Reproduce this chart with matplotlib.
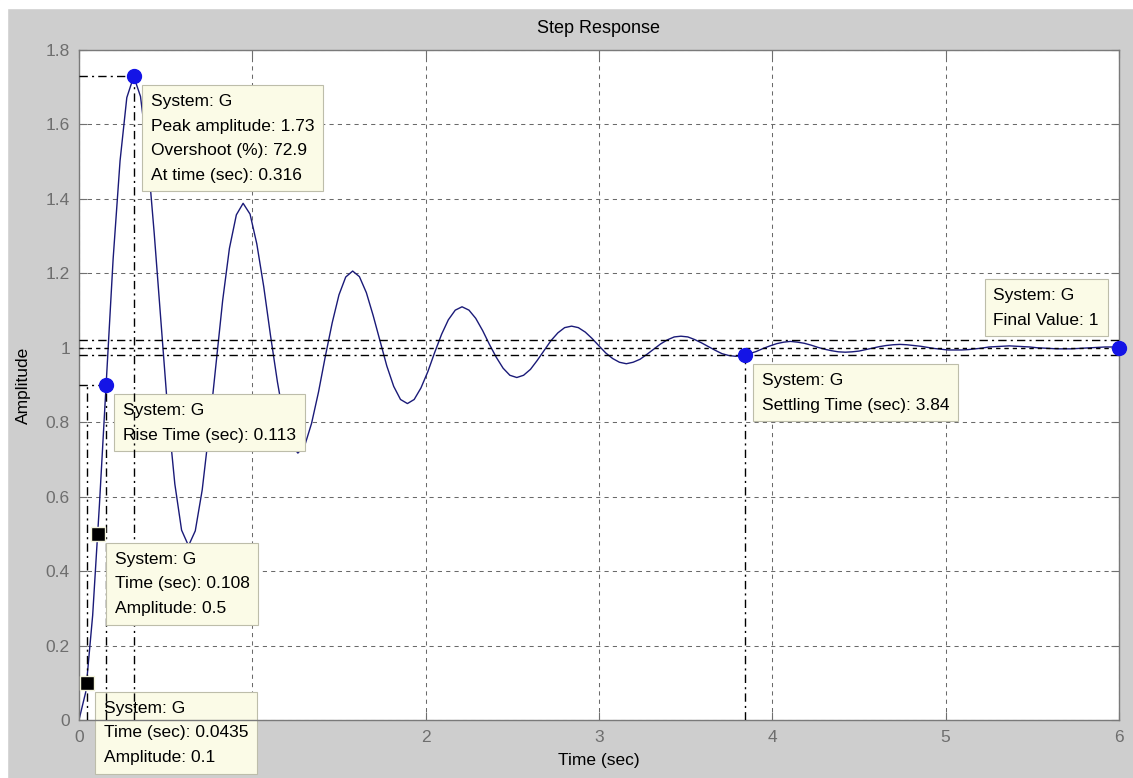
import matplotlib
matplotlib.use("Agg")
import matplotlib.pyplot as plt
from matplotlib.patches import Rectangle

# step response of G, sampled along the curve
time_s = [0.000, 0.039, 0.079, 0.118, 0.158, 0.197, 0.237, 0.276,
          0.316, 0.355, 0.395, 0.434, 0.474, 0.513, 0.553, 0.592,
          0.632, 0.671, 0.711, 0.750, 0.790, 0.829, 0.868, 0.908,
          0.947, 0.987, 1.026, 1.066, 1.105, 1.145, 1.184, 1.224,
          1.263, 1.303, 1.342, 1.382, 1.421, 1.461, 1.500, 1.539,
          1.579, 1.618, 1.658, 1.697, 1.737, 1.776, 1.816, 1.855,
          1.895, 1.934, 1.973, 2.013, 2.052, 2.092, 2.131, 2.171,
          2.210, 2.250, 2.289, 2.329, 2.368, 2.408, 2.447, 2.486,
          2.526, 2.565, 2.605, 2.644, 2.684, 2.723, 2.763, 2.802,
          2.842, 2.881, 2.921, 2.960, 3.000, 3.039, 3.079, 3.118,
          3.158, 3.197, 3.237, 3.276, 3.316, 3.355, 3.394, 3.434,
          3.473, 3.513, 3.552, 3.592, 3.631, 3.671, 3.710, 3.750,
          3.789, 3.829, 3.868, 3.908, 3.947, 3.987, 4.026, 4.066,
          4.105, 4.145, 4.184, 4.224, 4.263, 4.302, 4.342, 4.381,
          4.421, 4.460, 4.500, 4.539, 4.579, 4.618, 4.658, 4.697,
          4.737, 4.776, 4.816, 4.855, 4.894, 4.934, 4.973, 5.013,
          5.052, 5.092, 5.131, 5.171, 5.210, 5.250, 5.289, 5.329,
          5.368, 5.408, 5.447, 5.486, 5.526, 5.565, 5.605, 5.644,
          5.684, 5.723, 5.763, 5.802, 5.842, 5.881, 5.921, 5.960,
          6.000]
amplitude = [0.000, 0.075, 0.281, 0.578, 0.914, 1.238, 1.502, 1.672,
             1.729, 1.675, 1.524, 1.308, 1.063, 0.826, 0.634, 0.510,
             0.468, 0.508, 0.618, 0.775, 0.954, 1.127, 1.267, 1.357,
             1.388, 1.359, 1.279, 1.164, 1.033, 0.908, 0.805, 0.740,
             0.717, 0.738, 0.797, 0.881, 0.976, 1.067, 1.142, 1.190,
             1.206, 1.191, 1.148, 1.087, 1.018, 0.951, 0.896, 0.861,
             0.850, 0.861, 0.892, 0.936, 0.987, 1.036, 1.075, 1.101,
             1.110, 1.101, 1.079, 1.046, 1.009, 0.974, 0.945, 0.926,
             0.920, 0.926, 0.942, 0.966, 0.993, 1.019, 1.040, 1.054,
             1.058, 1.054, 1.042, 1.025, 1.005, 0.986, 0.971, 0.961,
             0.957, 0.961, 0.969, 0.982, 0.996, 1.010, 1.021, 1.029,
             1.031, 1.029, 1.022, 1.013, 1.003, 0.993, 0.984, 0.979,
             0.977, 0.979, 0.984, 0.990, 0.998, 1.005, 1.011, 1.015,
             1.017, 1.015, 1.012, 1.007, 1.001, 0.996, 0.992, 0.989,
             0.988, 0.989, 0.991, 0.995, 0.999, 1.003, 1.006, 1.008,
             1.009, 1.008, 1.006, 1.004, 1.001, 0.998, 0.996, 0.994,
             0.994, 0.994, 0.995, 0.997, 0.999, 1.002, 1.003, 1.004,
             1.005, 1.004, 1.003, 1.002, 1.000, 0.999, 0.998, 0.997,
             0.997, 0.997, 0.998, 0.999, 1.000, 1.001, 1.002, 1.002,
             1.002]

# characteristics reported by the data tips
peak_time = 0.316
peak_amp = 1.73
overshoot = 72.9
rise_start = 0.0435
rise_time = 0.113
rise_level = 0.9
settle_time = 3.84
settle_amp = 0.98
settle_band = [0.98, 1.02]
final_time = 6
final_value = 1
tip_times = [0.0435, 0.108]
tip_amps = [0.1, 0.5]

x_ticks = [0, 1, 2, 3, 4, 5, 6]
y_ticks = [0, 0.2, 0.4, 0.6, 0.8, 1, 1.2, 1.4, 1.6, 1.8]
y_labels = ['0', '0.2', '0.4', '0.6', '0.8', '1', '1.2', '1.4', '1.6', '1.8']

plt.rcParams['font.family'] = ['Liberation Sans', 'DejaVu Sans']

fig = plt.figure(figsize=(11.33, 7.78), dpi=100, facecolor='#cecece')
# thin white border along top and left of the window capture
fig.patches.append(Rectangle((0, 1 - 8 / 778), 1, 8 / 778, transform=fig.transFigure,
                             color='white', zorder=0))
fig.patches.append(Rectangle((0, 0), 7 / 1133, 1, transform=fig.transFigure,
                             color='white', zorder=0))

ax = fig.add_axes([0.0697, 0.0746, 0.9179, 0.8612])
ax.set_facecolor('white')

dashdot = (0, (6, 3, 1.5, 3))
char_kw = dict(color='black', lw=1.0, linestyle=dashdot, zorder=3)

ax.plot(time_s, amplitude, color='#1a1a78', lw=1.0, zorder=2)

# peak response
ax.plot([0, peak_time], [peak_amp, peak_amp], **char_kw)
ax.plot([peak_time, peak_time], [0, peak_amp], **char_kw)

# rise time
rise_end = rise_start + rise_time
ax.plot([0, rise_end], [rise_level, rise_level], **char_kw)
ax.plot([rise_start, rise_start], [0, rise_level], **char_kw)
ax.plot([rise_end, rise_end], [0, rise_level], **char_kw)

# settling time and band
ax.plot([settle_time, settle_time], [0, settle_amp], **char_kw)
for lev in settle_band:
    ax.axhline(lev, **char_kw)
ax.axhline(final_value, color='black', lw=1.0, linestyle=(0, (3, 3)), zorder=3)

# markers
ax.plot([peak_time, rise_end, settle_time, final_time],
        [peak_amp, rise_level, settle_amp, final_value],
        'o', color='#1414e6', ms=10, mec='#1414e6', zorder=6, clip_on=False)
ax.plot(tip_times, tip_amps, 's', color='black', ms=10, mec='#f4f4dc', mew=1,
        zorder=6, clip_on=False)


def datatip(x, y, lines, z=5, above=False):
    if above:
        off, ha, va = (-20, 20), 'right', 'bottom'
    else:
        off, ha, va = (17, -18), 'left', 'top'
    ax.annotate('\n'.join(lines), xy=(x, y), xytext=off, textcoords='offset pixels',
                ha=ha, va=va, multialignment='left', fontsize=12.5, linespacing=1.8,
                color='black',
                bbox=dict(boxstyle='square,pad=0.5', fc='#fbfbe7', ec='#bdbdaa', lw=0.8),
                zorder=z, annotation_clip=False)


datatip(peak_time, peak_amp, ['System: G', 'Peak amplitude: %.2f' % peak_amp,
                              'Overshoot (%%): %.1f' % overshoot,
                              'At time (sec): %.3f' % peak_time])
datatip(rise_end, rise_level, ['System: G', 'Rise Time (sec): %.3f' % rise_time], z=2.5)
datatip(tip_times[1], tip_amps[1], ['System: G', 'Time (sec): %g' % tip_times[1],
                                    'Amplitude: %g' % tip_amps[1]])
datatip(tip_times[0], tip_amps[0], ['System: G', 'Time (sec): %g' % tip_times[0],
                                    'Amplitude: %g' % tip_amps[0]], z=2.5)
datatip(settle_time, settle_amp, ['System: G', 'Settling Time (sec): %.2f' % settle_time])
datatip(final_time, final_value, ['System: G', 'Final Value: %g' % final_value], above=True)

ax.set_xlim(0, 6)
ax.set_ylim(0, 1.8)
ax.set_xticks(x_ticks)
ax.set_yticks(y_ticks)
ax.set_yticklabels(y_labels)
ax.tick_params(direction='in', length=6, width=0.8, top=True, right=True,
               color='#707070', labelcolor='#6e6e6e', labelsize=12.5)
ax.tick_params(axis='x', pad=7)
ax.tick_params(axis='y', pad=6.5)
for sp in ax.spines.values():
    sp.set_color('#7a7a7a')
    sp.set_linewidth(1.0)

ax.grid(True, color='#6a6a6a', linestyle=(0, (4, 4)), linewidth=0.75)
ax.set_axisbelow(True)

ax.set_title('Step Response', fontsize=13, pad=12)
ax.set_xlabel('Time (sec)', fontsize=12.5)
ax.set_ylabel('Amplitude', fontsize=12.5)
ax.xaxis.set_label_coords(0.5, -0.049)
ax.yaxis.set_label_coords(-0.0466, 0.5)

fig.savefig('out.png', dpi=100, facecolor=fig.get_facecolor())
